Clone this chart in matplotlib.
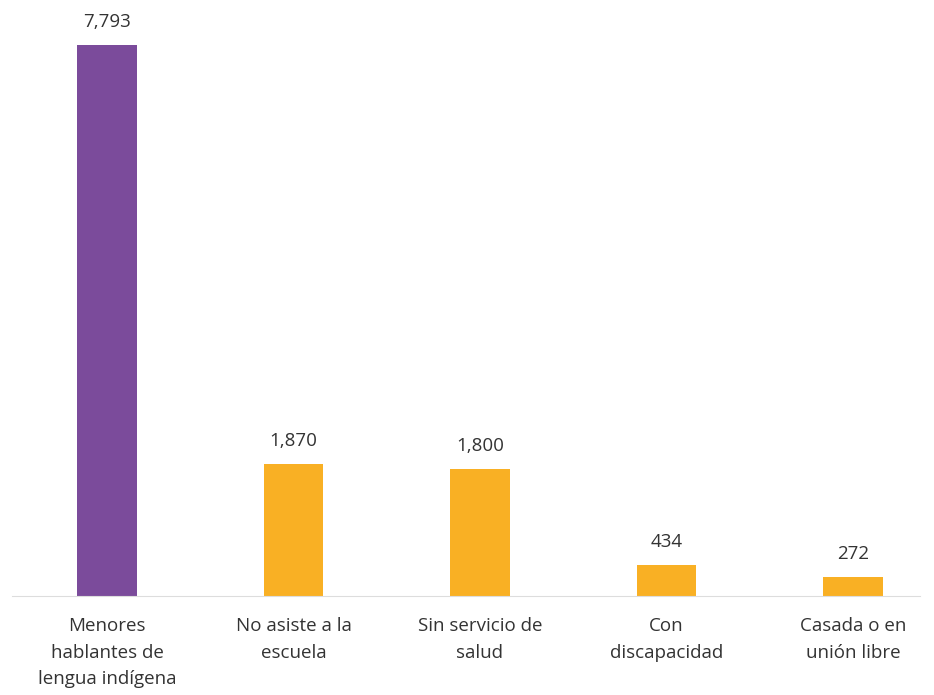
import matplotlib.pyplot as plt

categorias = ["Menores\nhablantes de\nlengua indígena", "No asiste a la\nescuela",
              "Sin servicio de\nsalud", "Con\ndiscapacidad", "Casada o en\nunión libre"]
valores = [7793, 1870, 1800, 434, 272]
colores = ["#7B4B9B", "#F9B024", "#F9B024", "#F9B024", "#F9B024"]

plt.rcParams['font.family'] = ['Open Sans', 'DejaVu Sans']

fig = plt.figure(figsize=(9.34, 6.95), dpi=100)
ax = fig.add_axes([12 / 934, 99 / 695, 908 / 934, 591 / 695])

x = range(len(valores))
ax.bar(x, valores, width=0.32, color=colores)

for xi, v in zip(x, valores):
    ax.text(xi, v + 200, f"{v:,}", ha="center", va="bottom", fontsize=13.5, color="#333333")

ax.set_xlim(-0.51, 4.36)
ax.set_ylim(0, 7793 * 591 / 551)
ax.set_xticks(list(x))
ax.set_xticklabels(categorias, fontsize=13.5, color="#333333", linespacing=1.62, va="top")
ax.tick_params(axis="x", length=0, pad=15)
ax.set_yticks([])
for s in ["top", "right", "left"]:
    ax.spines[s].set_visible(False)
ax.spines["bottom"].set_color("#dddddd")

fig.savefig("out.png", dpi=100)
